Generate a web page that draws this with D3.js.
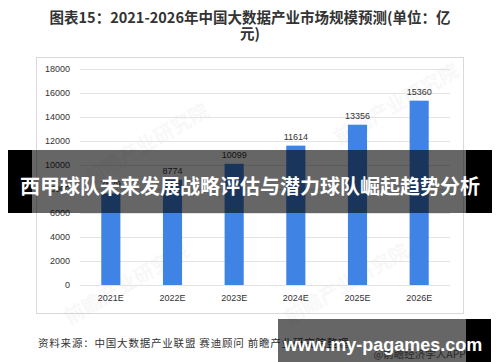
<!DOCTYPE html>
<html>
<head>
<meta charset="utf-8">
<script src="https://cdn.jsdelivr.net/npm/d3@7"></script>
<style>
  body { margin: 0; background: #fff; }
  svg { display: block; font-family: "Microsoft YaHei", "Noto Sans CJK SC", sans-serif; }
</style>
</head>
<body>
<svg id="chart" width="500" height="362"></svg>
<script>
  var years = ['2021E', '2022E', '2023E', '2024E', '2025E', '2026E'];
  var values = [7629, 8774, 10099, 11614, 13356, 15360];
  var yTicks = [0, 2000, 4000, 6000, 8000, 10000, 12000, 14000, 16000, 18000];

  (function() {
  var svg = d3.select('#chart');
  var plotLeft = 80, plotRight = 450, plotTop = 69, plotBottom = 285;

  // title
  var title = svg.append('g')
    .attr('fill', '#333')
    .attr('font-weight', 'bold')
    .attr('font-size', 14.5)
    .attr('text-anchor', 'middle');
  title.append('text').attr('x', 250).attr('y', 23).text('图表15：2021-2026年中国大数据产业市场规模预测(单位：亿');
  title.append('text').attr('x', 250).attr('y', 39).text('元)');

  // frame
  svg.append('rect')
    .attr('x', 36.5).attr('y', 57.5)
    .attr('width', 427).attr('height', 256)
    .attr('fill', 'none').attr('stroke', '#d9d9d9');

  var x = d3.scaleBand().domain(years).range([plotLeft, plotRight]).paddingInner(0.69).paddingOuter(0.345);
  var y = d3.scaleLinear().domain([0, 18000]).range([plotBottom, plotTop]);

  // watermarks
  var wm = [[150, 150], [400, 110], [350, 290], [130, 290]];
  svg.append('g')
    .selectAll('text')
    .data(wm)
    .enter()
    .append('text')
    .attr('transform', function(d) { return 'translate(' + d[0] + ',' + d[1] + ') rotate(-30)'; })
    .attr('text-anchor', 'middle')
    .attr('font-size', 20)
    .attr('font-weight', 'bold')
    .attr('fill', '#000')
    .attr('opacity', 0.025)
    .text('前瞻产业研究院');

  // grid
  svg.append('g')
    .selectAll('line')
    .data(yTicks)
    .enter()
    .append('line')
    .attr('x1', plotLeft).attr('x2', plotRight)
    .attr('y1', function(d) { return Math.round(y(d)) + 0.5; })
    .attr('y2', function(d) { return Math.round(y(d)) + 0.5; })
    .attr('stroke', '#e3e3e3');

  var yAxis = svg.append('g')
    .attr('transform', 'translate(70,0)')
    .call(d3.axisLeft(y).tickValues(yTicks).tickSize(0).tickPadding(0).tickFormat(d3.format('d')));
  yAxis.select('.domain').remove();
  yAxis.selectAll('text').attr('fill', '#333').attr('font-size', 9).attr('font-family', 'Liberation Sans, Arial, sans-serif');

  var xAxis = svg.append('g')
    .attr('transform', 'translate(0,' + plotBottom + ')')
    .call(d3.axisBottom(x).tickSize(0).tickPadding(10));
  xAxis.select('.domain').remove();
  xAxis.selectAll('text').attr('fill', '#333').attr('font-size', 9).attr('font-family', 'Liberation Sans, Arial, sans-serif');

  // bars
  svg.append('g')
    .selectAll('rect')
    .data(values)
    .enter()
    .append('rect')
    .attr('x', function(d, i) { return x(years[i]); })
    .attr('y', function(d) { return y(d); })
    .attr('width', x.bandwidth())
    .attr('height', function(d) { return plotBottom - y(d); })
    .attr('fill', '#3f84e5');

  svg.append('g')
    .selectAll('text')
    .data(values)
    .enter()
    .append('text')
    .attr('x', function(d, i) { return x(years[i]) + x.bandwidth() / 2; })
    .attr('y', function(d) { return y(d) - 6; })
    .attr('text-anchor', 'middle')
    .attr('font-size', 9)
    .attr('font-family', 'Liberation Sans, Arial, sans-serif')
    .attr('fill', '#333')
    .text(function(d) { return d; });

  // source
  svg.append('text')
    .attr('x', 38).attr('y', 347)
    .attr('font-size', 10.5)
    .attr('letter-spacing', 0.8)
    .attr('fill', '#333')
    .text('资料来源：中国大数据产业联盟 赛迪顾问 前瞻产业研究院整理');
  svg.append('text')
    .attr('x', 466).attr('y', 358)
    .attr('text-anchor', 'end')
    .attr('font-size', 10.5)
    .attr('fill', '#666')
    .text('@前瞻经济学人APP');

  // overlay banner
  svg.append('rect').attr('x', 8).attr('y', 150).attr('width', 24).attr('height', 63).attr('fill', '#000');
  svg.append('rect').attr('x', 466).attr('y', 150).attr('width', 26).attr('height', 63).attr('fill', '#000');
  svg.append('rect').attr('x', 32).attr('y', 150).attr('width', 434).attr('height', 63).attr('fill', '#000').attr('opacity', 0.6);
  svg.append('text')
    .attr('x', 250).attr('y', 194)
    .attr('text-anchor', 'middle')
    .attr('font-size', 20)
    .attr('font-weight', 'bold')
    .attr('fill', '#fff')
    .text('西甲球队未来发展战略评估与潜力球队崛起趋势分析');

  // url banner
  svg.append('rect').attr('x', 278).attr('y', 319).attr('width', 188).attr('height', 43).attr('fill', '#000').attr('opacity', 0.6);
  svg.append('rect').attr('x', 466).attr('y', 319).attr('width', 25).attr('height', 43).attr('fill', '#000');
  svg.append('text')
    .attr('x', 383).attr('y', 351)
    .attr('text-anchor', 'middle')
    .attr('font-size', 18)
    .attr('font-weight', 'bold')
    .attr('font-family', 'Liberation Sans, Arial, sans-serif')
    .attr('fill', '#fff')
    .text('www.my-pagames.com');
  })();
</script>
</body>
</html>
